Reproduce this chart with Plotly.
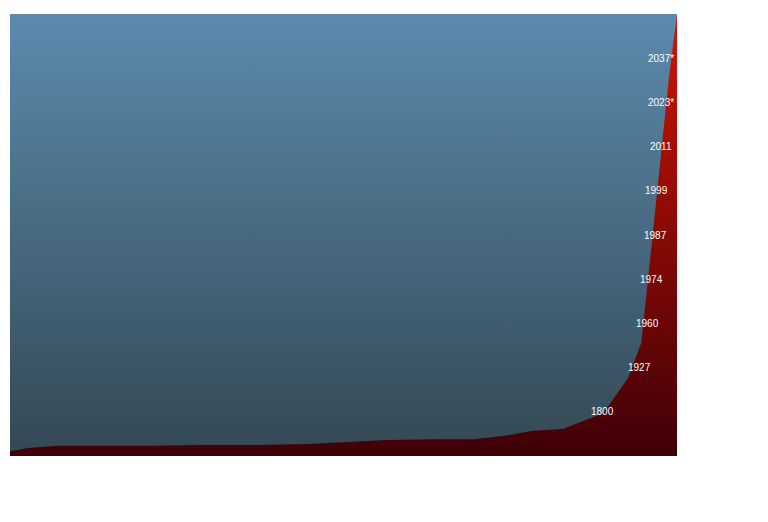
import plotly.graph_objects as go

# population curve (x in grid columns, y in billions)
pos = [0, 0.38, 1.0, 3.0, 4.03, 5.2, 6.26, 7.1, 7.9, 8.98, 9.72, 10.35, 10.98,
       11.6, 12.45, 12.97, 13.25, 13.46, 13.71, 13.83, 14.0]
pop = [0.11, 0.18, 0.23, 0.23, 0.25, 0.25, 0.27, 0.32, 0.36, 0.38, 0.38, 0.45,
       0.57, 0.61, 0.97, 1.76, 2.56, 4.7, 7.2, 8.55, 10.0]

label_years = ['1800', '1927', '1960', '1974', '1987', '1999', '2011', '2023*', '2037*']
label_pos = [12.72, 13.5, 13.67, 13.75, 13.84, 13.86, 13.94, 13.98, 13.98]
label_pop = [1, 2, 3, 4, 5, 6, 7, 8, 9]

fig = go.Figure()
# gradient background
fig.add_trace(go.Scatter(
    x=[0, 14, 14, 0, 0], y=[0, 0, 10, 10, 0], mode='none', fill='toself',
    fillgradient=dict(type='vertical', colorscale=[[0, '#344853'], [1, '#5b8bae']]),
    hoverinfo='skip', showlegend=False,
))
fig.add_trace(go.Scatter(
    x=pos, y=pop, mode='lines', line=dict(width=0), fill='tozeroy',
    fillgradient=dict(type='vertical', colorscale=[[0, '#3e0008'], [1, '#d01500']]),
    showlegend=False,
))
for yr, xp, yp in zip(label_years, label_pos, label_pop):
    fig.add_annotation(x=xp, y=yp, text=yr, showarrow=False, xanchor='right',
                       font=dict(color='white', size=10, family='Liberation Sans'))

grid = dict(showgrid=True, gridcolor='rgba(25,45,60,0.45)', gridwidth=1,
            showticklabels=False, zeroline=False, dtick=1, showline=False, ticks='')
fig.update_xaxes(range=[0, 14], layer='above traces', **grid)
fig.update_yaxes(range=[0, 10], layer='above traces', **grid)
fig.update_layout(
    width=768, height=522,
    margin=dict(l=2, r=99, t=6, b=74),
    paper_bgcolor='white', plot_bgcolor='#4a6a80',
)
fig.write_html('out.html')
